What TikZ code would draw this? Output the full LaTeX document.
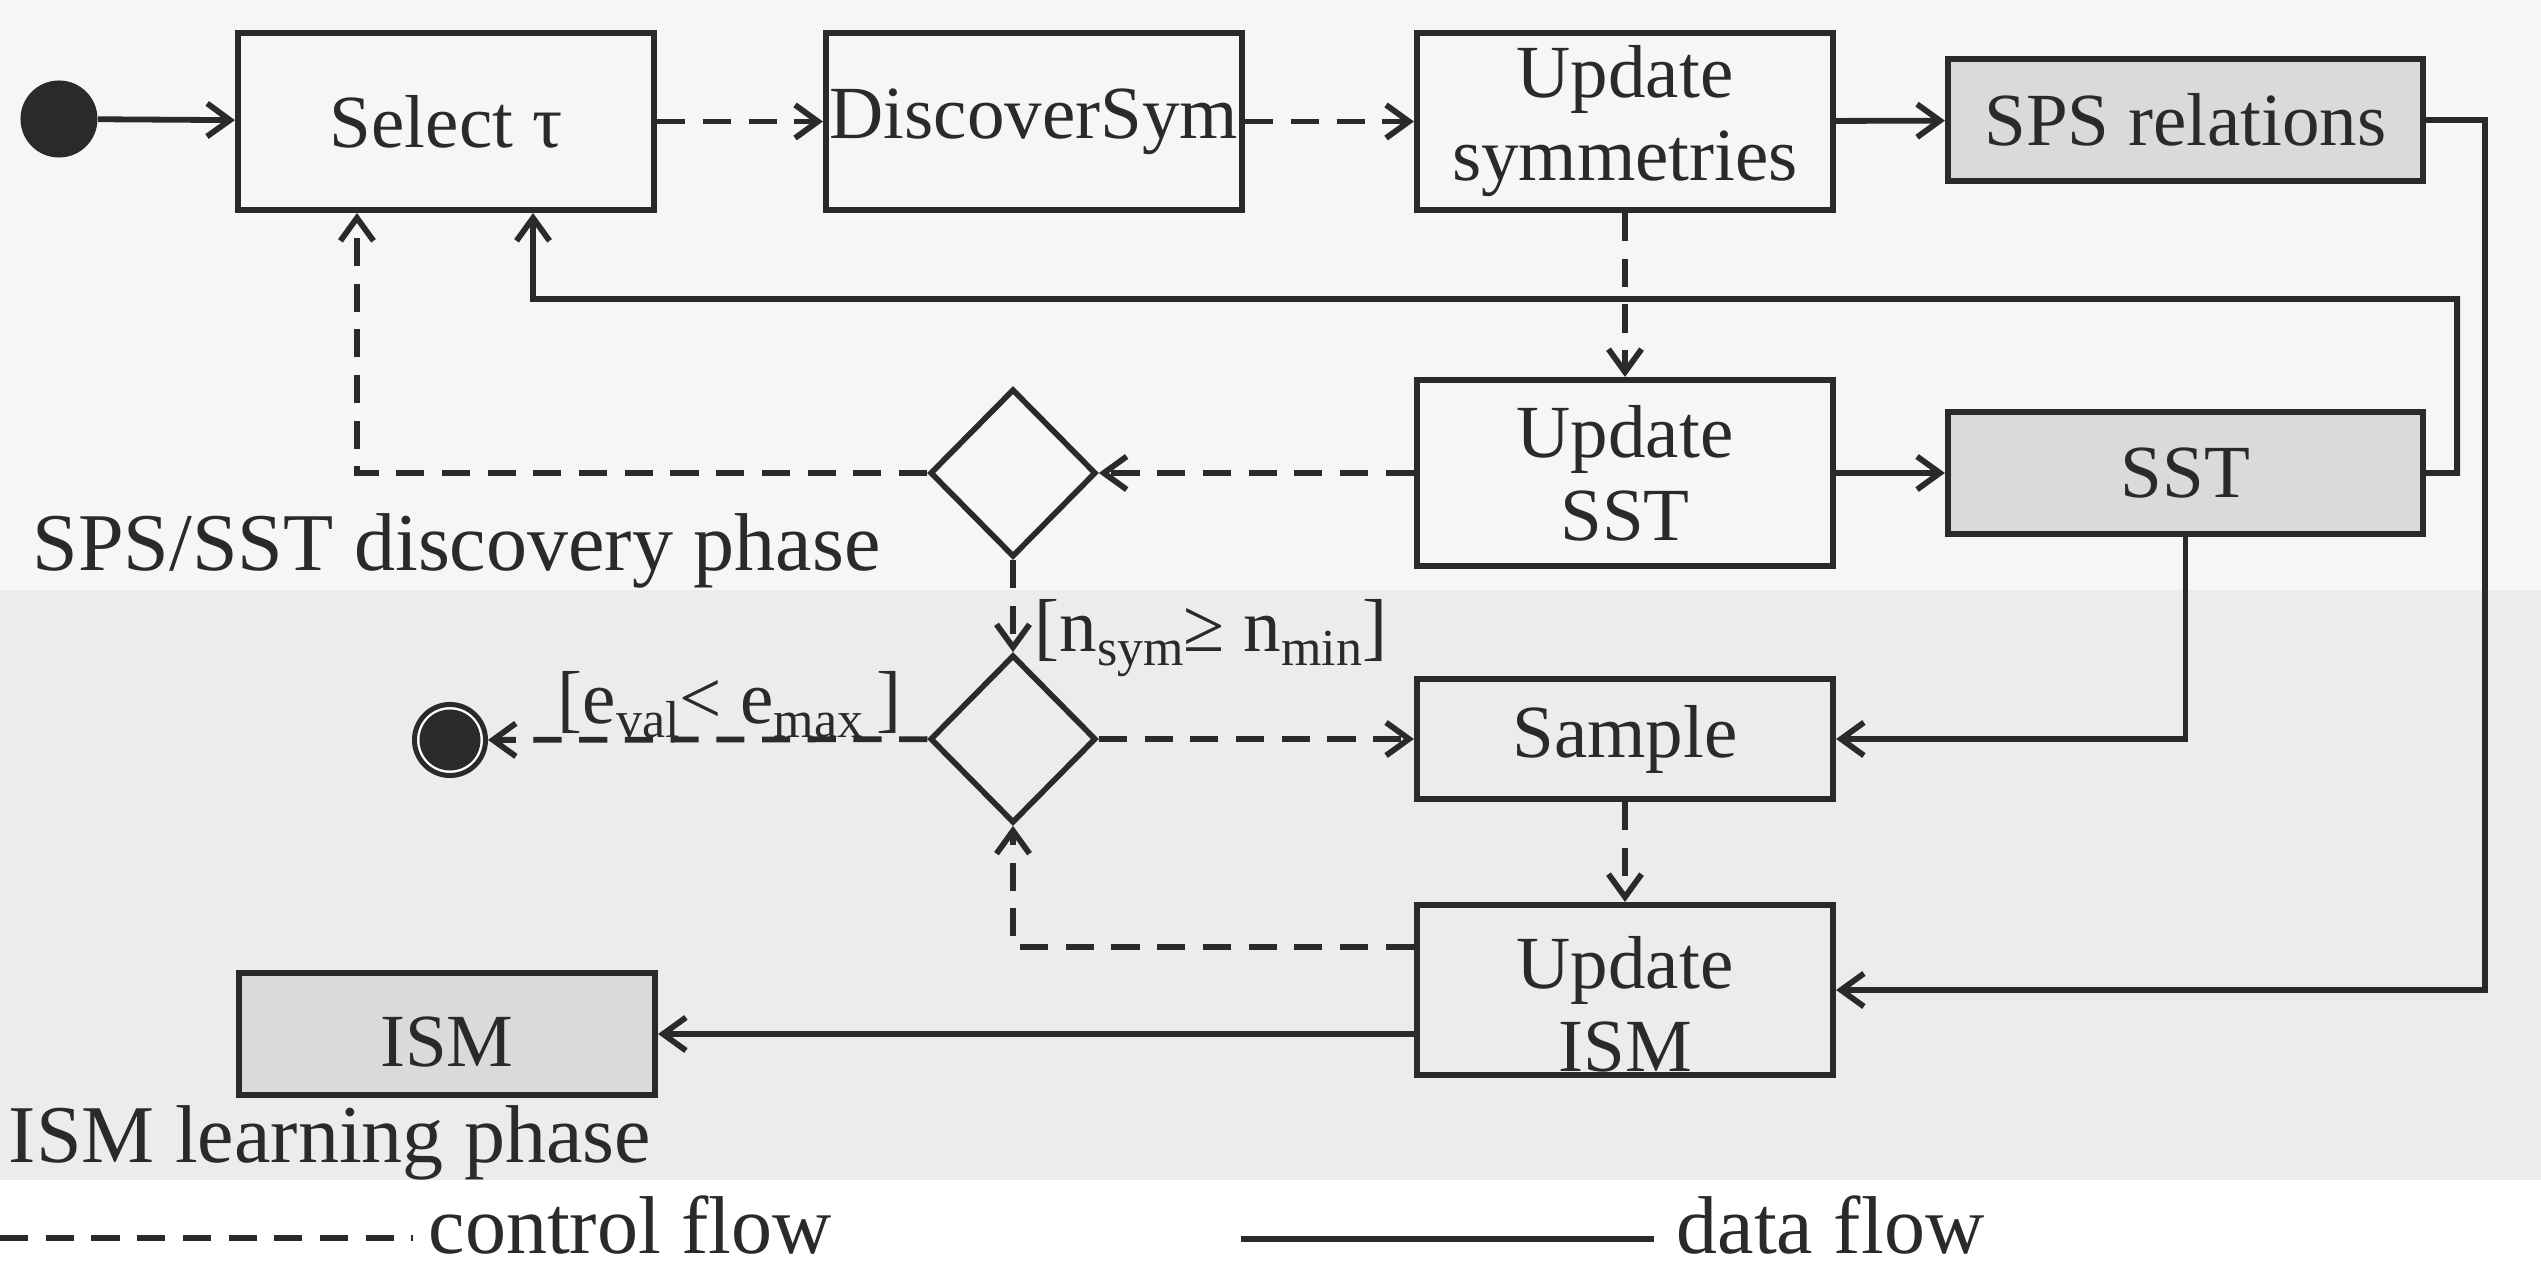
\documentclass[tikz,border=0pt]{standalone}
\usepackage{fontspec}
\setmainfont{Liberation Serif}
\usetikzlibrary{arrows.meta,shapes.geometric,calc}
\definecolor{ink}{HTML}{2B2A29}
\definecolor{bandtop}{HTML}{F6F6F6}
\definecolor{bandbot}{HTML}{EBECEB}
\definecolor{boxgray}{HTML}{D9DBDA}
\newcommand\boxfont{\fontsize{7.5mm}{8.3mm}\selectfont}
\newcommand\bigfont{\fontsize{8.2mm}{8.3mm}\selectfont}
\newcommand\subfont{\fontsize{5.2mm}{5.2mm}\selectfont}
\newcommand\lsub[1]{\raisebox{-1.3mm}{\subfont #1}}
\begin{document}
\begin{tikzpicture}[x=0.01cm,y=-0.01cm,
  >={Straight Barb[length=6.5pt,width=9.4pt]},
  proc/.style={draw=ink, line width=1.7pt, rectangle, inner sep=0pt, minimum width=41.6mm, align=center, text=ink, font=\boxfont},
  store/.style={proc, fill=boxgray, minimum width=47.5mm, minimum height=12.2mm},
  dec/.style={draw=ink, line width=1.6pt, diamond, aspect=1, inner sep=0pt, minimum width=16.6mm, minimum height=16.8mm},
  ctrl/.style={draw=ink, line width=1.65pt, dash pattern=on 8pt off 5pt, ->},
  data/.style={draw=ink, line width=1.65pt, ->},
  lbl/.style={text=ink, font=\bigfont, inner sep=0pt, anchor=base west},
  guard/.style={text=ink, font=\boxfont, inner sep=0pt, anchor=base west},
  btext/.style={text=ink, font=\boxfont, inner sep=0pt, align=center}
]
\useasboundingbox (0,0) rectangle (2541,1267);
% bands
\fill[bandtop] (0,0) rectangle (2541,590);
\fill[bandbot] (0,590) rectangle (2541,1180);

% nodes
\node[circle, fill=ink, minimum size=7.7mm, inner sep=0pt] (start) at (59,119) {};
\node[proc, minimum height=17.7mm] (sel) at (446,121.5) {Select τ};
\node[proc, minimum height=17.7mm] (disc) at (1034,121.5) {DiscoverSym};
\node[proc, minimum height=17.7mm] (usym) at (1625,121.5) {Update\\symmetries};
\node[store] (sps) at (2185.5,120) {SPS relations};
\node[proc, minimum height=18.6mm] (usst) at (1625,473) {Update\\SST};
\node[store] (sst) at (2185.5,473) {SST};
\node[dec] (d1) at (1013,473) {};
\node[dec] (d2) at (1013,739) {};
\node[proc, minimum height=12mm] (sample) at (1625,739) {Sample};
\node[proc, minimum height=17mm] (uism) at (1625,990) {};
\node[btext] (uismt) at ([yshift=-1.4mm]uism.center) {Update\\ISM};
\node[store, minimum width=41.6mm] (ism) at (447,1034) {};
\node[btext] (ismt) at ([yshift=-0.8mm]ism.center) {ISM};
\node[circle, draw=ink, line width=0.5mm, fill=white, minimum size=7.1mm, inner sep=0pt,
      path picture={\fill[ink] (path picture bounding box.center) circle (3.05mm);}] (endn) at (450,740) {};

% labels
\node[lbl] (ph1) at (32,571) {SPS/SST discovery phase};
\node[lbl] (ph2) at (8,1162) {ISM learning phase};
\node[guard] (g1) at (1034,652) {[n\lsub{sym}≥ n\lsub{min}]};
\node[guard] (g2) at (557,724) {[e\lsub{val}< e\lsub{max}\,]};

% control flow
\draw[ctrl] (sel) -- (disc);
\draw[ctrl] (disc) -- (usym);
\draw[ctrl] (usym) -- (usst);
\draw[ctrl] (usst) -- (d1);
\draw[ctrl] (d1.west) -| ([xshift=-0.89cm]sel.south);
\draw[ctrl] (d1) -- (d2);
\draw[ctrl] (d2) -- (endn);
\draw[ctrl] (d2) -- (sample);
\draw[ctrl] (sample) -- (uism);
\draw[ctrl] ([yshift=0.43cm]uism.west) -| (d2.south);

% data flow
\draw[data] (start) -- (sel);
\draw[data] (usym) -- (sps);
\draw[data] (sps.east) -- ++(59,0) |- (uism.east);
\draw[data] (sst.east) -- ++(31,0) |- ($(sel.south)+(87,86)$) -- ([xshift=0.87cm]sel.south);
\draw[data] (usst) -- (sst);
\draw[data] (sst.south) |- (sample.east);
\draw[data] (uism.west |- ism.east) -- (ism.east);

% legend
\coordinate (c0) at (0,1238);
\coordinate (c1) at (413,1238);
\coordinate (dl0) at (1241,1239);
\coordinate (dl1) at (1654,1239);
\draw[ink, line width=1.7pt, dash pattern=on 8pt off 5pt] (c0) -- (c1);
\draw[ink, line width=1.7pt] (dl0) -- (dl1);
\node[lbl] (lg1) at (428,1253) {control flow};
\node[lbl] (lg2) at (1676,1253) {data flow};
\end{tikzpicture}
\end{document}
